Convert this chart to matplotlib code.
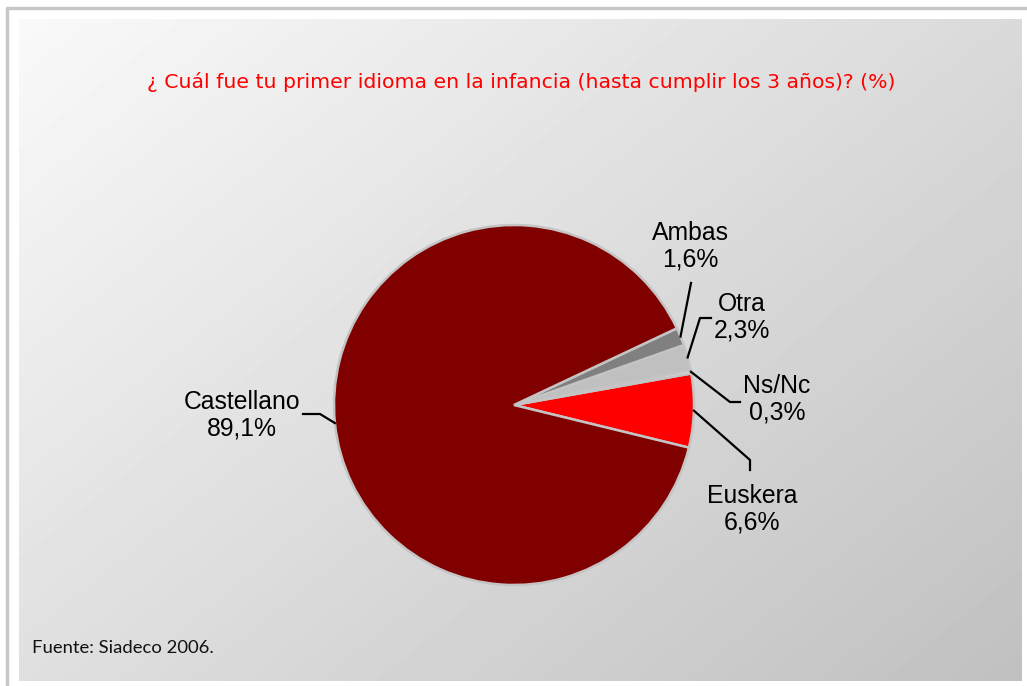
import matplotlib.pyplot as plt
import numpy as np

# datos
labels = ['Euskera', 'Ns/Nc', 'Otra', 'Ambas', 'Castellano']
values = [6.6, 0.3, 2.3, 1.6, 89.1]
colors = ['#ff0000', '#e4e4e4', '#c0c0c0', '#808080', '#800000']
pct_txt = ['6,6%', '0,3%', '2,3%', '1,6%', '89,1%']

W, H = 1027, 686
fig = plt.figure(figsize=(W / 100, H / 100), dpi=100)
ax = fig.add_axes([0, 0, 1, 1])

# marco y fondo degradado
ax.plot([7, 7, W], [H, 8, 8], color='#c8c8c8', lw=2.5, zorder=1)
gx, gy = np.meshgrid(np.linspace(0, 1, 200), np.linspace(0, 1, 200))
grad = 249 - 57 * (gx * 0.55 + gy * 0.45)
ax.imshow(grad, cmap='gray', vmin=0, vmax=255, extent=(19, 1022, 681, 19),
          origin='upper', aspect='auto', zorder=1, interpolation='bilinear')

cx, cy, R = 514, 405, 180
# eje y invertido -> counterclock=False para girar visualmente antihorario
wedges, _ = ax.pie(values, colors=colors, center=(cx, cy), radius=R,
                   startangle=13.7, counterclock=False, frame=True,
                   wedgeprops=dict(edgecolor='#c4c4c4', linewidth=1.8))
for w in wedges:
    w.set_zorder(3)
ax.set_xlim(0, W)
ax.set_ylim(H, 0)
ax.axis('off')

# etiquetas con lineas guia (codos y posiciones de texto en pixeles)
layout = {
    'Castellano': ([(320, 414), (303, 414)], (242, 415)),
    'Ambas': ([(691, 283)], (690, 246)),
    'Otra': ([(700, 318), (711, 318)], (742, 317)),
    'Ns/Nc': ([(730, 402), (740, 402)], (777, 399)),
    'Euskera': ([(750, 460), (750, 470)], (752, 509)),
}
for w, lab, pt in zip(wedges, labels, pct_txt):
    mid = np.deg2rad((w.theta1 + w.theta2) / 2)
    ex, ey = cx + R * np.cos(mid), cy + R * np.sin(mid)
    pts, (tx, ty) = layout[lab]
    xs = [ex] + [p[0] for p in pts]
    ys = [ey] + [p[1] for p in pts]
    ax.plot(xs, ys, color='black', lw=1.6, zorder=4)
    ax.text(tx, ty, lab + '\n' + pt, ha='center', va='center', fontsize=17.8,
            family='Liberation Sans', linespacing=1.12, zorder=5)

ax.text(521, 82, '¿ Cuál fue tu primer idioma en la infancia (hasta cumplir los 3 años)? (%)',
        ha='center', va='center', color='red', fontsize=14.7,
        family=['DejaVu Sans Condensed', 'DejaVu Sans'], zorder=5)
ax.text(32, 648, 'Fuente: Siadeco 2006.', ha='left', va='center', fontsize=13.3,
        family='Lato', color='#111111', zorder=5)

fig.savefig('out.png', dpi=100)
